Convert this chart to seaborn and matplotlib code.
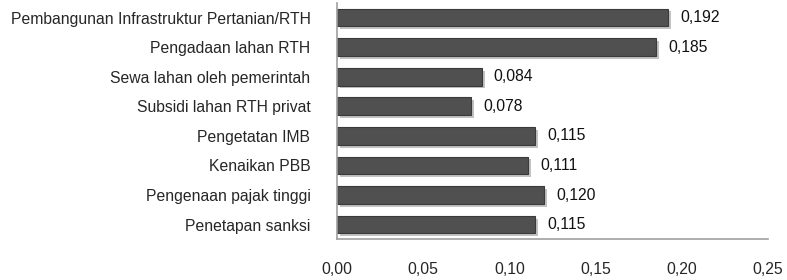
import matplotlib
matplotlib.use("Agg")
import matplotlib.pyplot as plt
import matplotlib.patheffects as pe
import seaborn as sns
import pandas as pd

categories = ["Pembangunan Infrastruktur Pertanian/RTH", "Pengadaan lahan RTH",
              "Sewa lahan oleh pemerintah", "Subsidi lahan RTH privat",
              "Pengetatan IMB", "Kenaikan PBB", "Pengenaan pajak tinggi",
              "Penetapan sanksi"]
values = [0.192, 0.185, 0.084, 0.078, 0.115, 0.111, 0.120, 0.115]
xticks = [0.00, 0.05, 0.10, 0.15, 0.20, 0.25]

df = pd.DataFrame({"kategori": categories, "nilai": values})

sns.set_style("white")
plt.rcParams["font.family"] = ["Liberation Sans", "DejaVu Sans"]
fs = 11.3

fig, ax = plt.subplots(figsize=(7.87, 2.8), dpi=100)
fig.subplots_adjust(left=0.428, right=0.976, top=0.99, bottom=0.145)

sns.barplot(data=df, x="nilai", y="kategori", orient="h", color="#505050",
            width=0.6, edgecolor="#3a3a3a", linewidth=0.8, saturation=1, ax=ax)
for p in ax.patches:
    p.set_path_effects([pe.SimplePatchShadow(offset=(2, -2), shadow_rgbFace="#9a9a9a", alpha=0.6),
                        pe.Normal()])

for i, v in enumerate(values):
    ax.text(v + 0.007, i, f"{v:.3f}".replace(".", ","), va="center", ha="left",
            fontsize=fs, color="#111111")

ax.set_xlim(0, 0.25)
ax.set_ylim(7.5, -0.5)
ax.set_xticks(xticks)
ax.set_xticklabels([f"{t:.2f}".replace(".", ",") for t in xticks], fontsize=fs)
ax.tick_params(axis="x", length=0, pad=16)
ax.tick_params(axis="y", length=0, pad=19, labelsize=fs)
ax.set_xlabel("")
ax.set_ylabel("")
for s in ["top", "right"]:
    ax.spines[s].set_visible(False)
for s in ["left", "bottom"]:
    ax.spines[s].set_color("#a0a0a0")
    ax.spines[s].set_linewidth(1.2)

fig.savefig("out.png", dpi=100)
